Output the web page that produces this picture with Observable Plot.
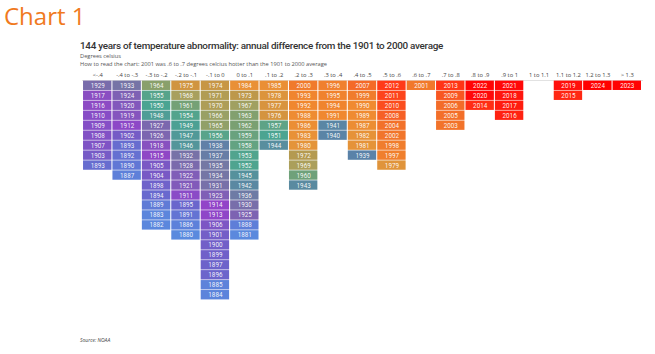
<!DOCTYPE html>
<html><head><meta charset="utf-8">
<script src="https://cdn.jsdelivr.net/npm/d3@7"></script>
<script src="https://cdn.jsdelivr.net/npm/@observablehq/plot@0.6"></script>
<style>
body{margin:0;background:#fff;font-family:"Open Sans",sans-serif;}
#wrap{position:relative;width:655px;height:354px;overflow:hidden;}
#big{position:absolute;left:4px;top:1px;font-size:24px;color:#f07a1e;line-height:30px;}
#title{position:absolute;left:80px;top:39px;font-family:Roboto,sans-serif;font-size:9.9px;font-weight:500;color:#333;white-space:nowrap;line-height:14px;letter-spacing:-0.28px;}
.sub{position:absolute;left:80px;font-size:5.7px;color:#555;white-space:nowrap;line-height:8px;}
#chart{position:absolute;left:0;top:67px;}
#src{position:absolute;left:80px;top:337px;font-size:5px;font-style:italic;color:#444;}
</style></head>
<body><div id="wrap">
<div id="big">Chart 1</div>
<div id="title">144 years of temperature abnormality: annual difference from the 1901 to 2000 average</div>
<div class="sub" style="top:52px">Degrees celsius</div>
<div class="sub" style="top:60px">How to read the chart: 2001 was .6 to .7 degrees celcius hotter than the 1901 to 2000 average</div>
<div id="chart"></div>
<div id="src">Source: NOAA</div>
</div>
<script>
const bins = ["<-.4","-.4 to -.3","-.3 to -.2","-.2 to -.1","-.1 to 0","0 to .1",".1 to .2",".2 to .3",".3 to .4",".4 to .5",".5 to .6",".6 to .7",".7 to .8",".8 to .9",".9 to 1","1 to 1.1","1.1 to 1.2","1.2 to 1.3","> 1.3"];
const binYears = [
  [1929,1917,1916,1910,1909,1908,1907,1903,1893],
  [1933,1924,1920,1919,1912,1902,1893,1892,1890,1887],
  [1964,1955,1950,1948,1927,1926,1918,1915,1905,1904,1898,1894,1889,1883,1882],
  [1975,1968,1961,1954,1949,1947,1946,1932,1928,1922,1921,1911,1895,1891,1886,1880],
  [1974,1971,1970,1966,1965,1956,1938,1937,1935,1934,1931,1923,1914,1913,1906,1901,1900,1899,1897,1896,1885,1884],
  [1984,1973,1967,1963,1962,1959,1958,1953,1952,1945,1942,1936,1930,1925,1888,1881],
  [1985,1978,1977,1976,1957,1951,1944],
  [2000,1993,1992,1988,1986,1983,1980,1972,1969,1960,1943],
  [1996,1995,1994,1991,1941,1940],
  [2007,1999,1990,1989,1987,1982,1981,1939],
  [2012,2011,2010,2008,2004,2002,1998,1997,1979],
  [2001],
  [2013,2009,2006,2005,2003],
  [2022,2020,2014],
  [2021,2018,2017,2016],
  [],
  [2019,2015],
  [2024],
  [2023]
];
const colorYears  = [1880,1888,1895,1905,1914,1920,1928,1935,1939,1943,1950,1956,1962,1968,1972,1975,1980,1990,2000,2007,2012,2020,2024];
const colorValues = ["#5a8ade","#5e7ed8","#6a66cc","#7a58c4","#9244c8","#8258bc","#7a6aac","#7478a4","#5a82a8","#5a8aa0","#4aa492","#58a48a","#7aa072","#a8a05e","#b49a50","#d09440","#e4943a","#f08a30","#f07a2c","#f46a28","#ff3a18","#ff0a0a","#ff0000"];

const data = binYears.flatMap((ys, i) => ys.map((year, r) => ({bin: bins[i], row: r, year})));
const maxRows = d3.max(binYears, ys => ys.length);

const chart = Plot.plot({
  width: 655,
  height: 234,
  marginTop: 13,
  marginBottom: 1,
  marginLeft: 82,
  marginRight: 13,
  style: {fontFamily: "Open Sans, sans-serif", fontSize: "5.8px", color: "#444", background: "white"},
  x: {domain: bins, axis: "top", tickSize: 0, tickPadding: 4, label: null, padding: 0.035, round: false},
  y: {domain: d3.range(maxRows), axis: null, padding: 0.06, round: false},
  color: {type: "linear", domain: colorYears, range: colorValues},
  marks: [
    Plot.frame({anchor: "top", stroke: "#e2e2e2"}),
    Plot.cell(data, {x: "bin", y: "row", fill: "year"}),
    Plot.text(data, {x: "bin", y: "row", text: d => String(d.year), fill: "white", fontSize: 6.3, fontFamily: "Roboto, sans-serif", fillOpacity: 0.92})
  ]
});
document.getElementById("chart").appendChild(chart);
</script>
</body></html>
